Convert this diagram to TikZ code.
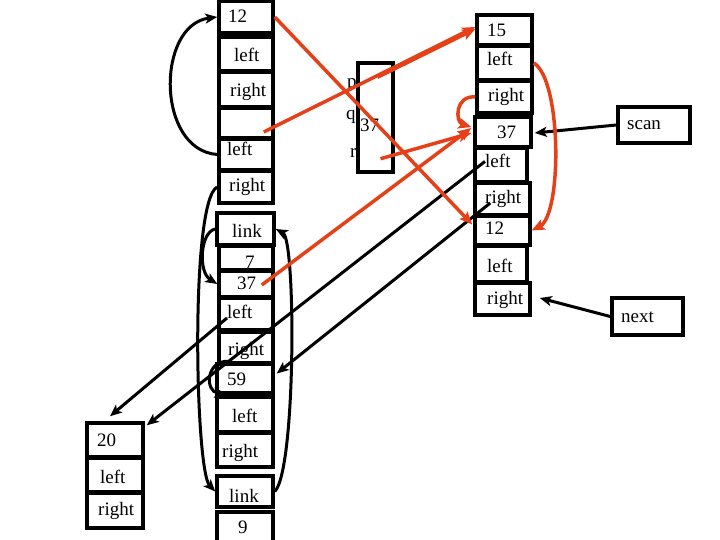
\documentclass[tikz,border=0pt]{standalone}
\usepackage{fontspec}
\setmainfont{Liberation Serif}
\usetikzlibrary{arrows.meta,calc,fit}
\definecolor{rd}{RGB}{230,64,24}
\tikzset{
  box/.style={draw=black, line width=3.5pt, inner sep=0pt},
  txt/.style={anchor=base west, inner sep=0pt, font=\fontsize{19}{19}\selectfont},
  bk/.style={draw=black, line width=3pt, -{Stealth[length=12pt,width=10pt,inset=3pt]}},
  rda/.style={draw=rd, line width=3.5pt, -{Stealth[length=13pt,width=11pt,inset=3pt]}}
}
\begin{document}
\begin{tikzpicture}[x=1pt,y=-1pt]
\useasboundingbox (0,0) rectangle (720,540);
% texts
\node[txt] (tL1) at (228,23) {12};
\node[txt] (tL2) at (234,62) {left};
\node[txt] (tL3) at (230,97) {right};
\node[txt] (tL5) at (227,156) {left};
\node[txt] (tL6) at (229,192) {right};
\node[txt] (tL7) at (232,237) {link};
\node[txt] (tL8) at (245,268) {7};
\node[txt] (tL9) at (237,289) {37};
\node[txt] (tL10) at (227,318) {left};
\node[txt] (tL11) at (228,355) {right};
\node[txt] (tL12) at (227,385) {59};
\node[txt] (tL13) at (232,422) {left};
\node[txt] (tL14) at (222,457) {right};
\node[txt] (tL15) at (229,502) {link};
\node[txt] (tL16) at (238,533) {9};
\node[txt] (tT1) at (97,446) {20};
\node[txt] (tT2) at (100,483) {left};
\node[txt] (tT3) at (98,515) {right};
\node[txt] (tR1) at (487,37) {15};
\node[txt] (tR2) at (487,66) {left};
\node[txt] (tR3) at (488,102) {right};
\node[txt] (tR4) at (497,139) {37};
\node[txt] (tR5) at (485,168) {left};
\node[txt] (tR6) at (485,204) {right};
\node[txt] (tR7) at (485,234) {12};
\node[txt] (tR8) at (487,272) {left};
\node[txt] (tR9) at (487,304) {right};
\node[txt] (tS) at (627,130) {scan};
\node[txt] (tN) at (621,322) {next};
\node[txt] (tp) at (347,88) {p};
\node[txt] (tq) at (346,120) {q};
\node[txt] (t37) at (360,132) {37};
\node[txt] (tr) at (350,158) {r};
% boxes
\node[box, fit={(219,1)(273,33)}] (L1) {};
\node[box, fit={(219,37)(273,71)}] (L2) {};
\node[box, fit={(219,72)(273,107)}] (L3) {};
\node[box, fit={(219,108)(273,138)}] (L4) {};
\node[box, fit={(219,139)(273,170)}] (L5) {};
\node[box, fit={(219,171)(273,203)}] (L6) {};
\node[box, fit={(217,213)(274,245)}] (L7) {};
\node[box, fit={(219,246)(273,270)}] (L8) {};
\node[box, fit={(219,271)(273,297)}] (L9) {};
\node[box, fit={(219,298)(273,330)}] (L10) {};
\node[box, fit={(219,332)(273,363)}] (L11) {};
\node[box, fit={(217,364)(273,393)}] (L12) {};
\node[box, fit={(217,397)(273,432)}] (L13) {};
\node[box, fit={(217,433)(273,467)}] (L14) {};
\node[box, fit={(217,476)(273,507)}] (L15) {};
\node[box, fit={(217,512)(273,548)}] (L16) {};
\node[box, fit={(87,423)(143,457)}] (T1) {};
\node[box, fit={(87,458)(143,492)}] (T2) {};
\node[box, fit={(87,493)(143,528)}] (T3) {};
\node[box, fit={(477,15)(532,45)}] (R1) {};
\node[box, fit={(477,46)(532,80)}] (R2) {};
\node[box, fit={(477,81)(532,113)}] (R3) {};
\node[box, fit={(475,117)(531,147)}] (R4) {};
\node[box, fit={(475,148)(527,182)}] (R5) {};
\node[box, fit={(475,183)(530,215)}] (R6) {};
\node[box, fit={(475,216)(530,245)}] (R7) {};
\node[box, fit={(475,246)(527,282)}] (R8) {};
\node[box, fit={(475,283)(530,315)}] (R9) {};
\node[box, fit={(358,63)(393,172)}] (M) {};
\node[box, fit={(618,107)(690,143)}] (S) {};
\node[box, fit={(612,298)(683,335)}] (N) {};
% black connectors
\draw[bk] (L5.west) .. controls (156,150) and (156,25) .. (L1.west);
\draw[bk] (L6.west) .. controls (190,200) and (195,470) .. (L15.west);
\draw[bk] (L7.west) .. controls (200,232) and (198,272) .. (L9.west);
\draw[bk] (L15.east) .. controls (296,470) and (296,240) .. (L7.east);
\draw[bk] ($(L12.north west)+(14,-1)$) .. controls (205,360) and (205,392) .. ($(L12.south west)+(11,-1)$);
\draw[bk] (tR5.west) -- ($(T1.north east)+(2,4)$);
\draw[bk] (tL10.base west) -- ($(T1.north)+(-5,-5)$);
\draw[bk] ($(R6.west)+(17,4)$) -- ($(L12.east)+(2,-5)$);
\draw[bk] (S.west) -- ($(R4.east)+(2,1)$);
\draw[bk] (N.west) -- ($(R9.east)+(8,-1)$);
% red connectors
\draw[rda] (L1.east) -- ($(R7.west)+(-1,-6)$);
\draw[rda] ($(L4.east)+(-11,9)$) -- ($(R1.west)+(0,-3)$);
\draw[rda] ($(M.north)+(2,16)$) -- ($(R1.west)+(0,-1)$);
\draw[rda] ($(M.south)+(5,-15)$) -- ($(R4.west)+(-2,1)$);
\draw[rda] ($(L9.east)+(-13,1)$) -- ($(R4.west)+(-2,-4)$);
\draw[rda] (R3.west) .. controls (455,95) and (455,122) .. ($(R4.west)+(-2,-5)$);
\draw[rda] (R2.east) .. controls (562,80) and (562,215) .. (R7.east);
\end{tikzpicture}
\end{document}
